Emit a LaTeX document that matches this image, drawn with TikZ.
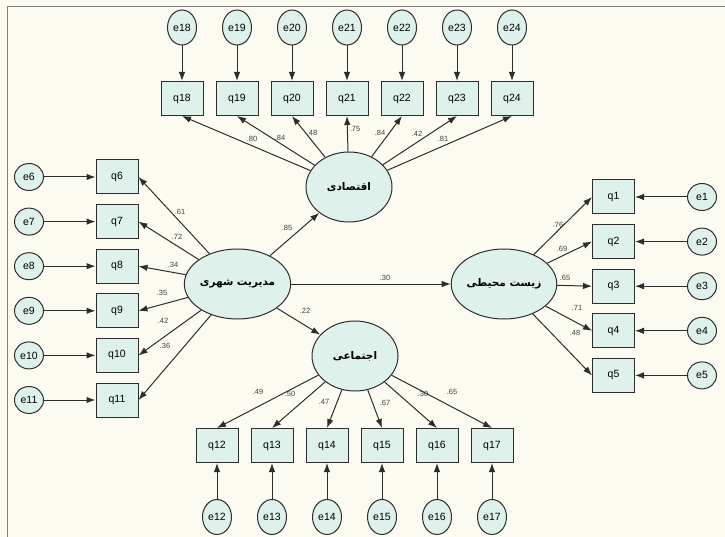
\documentclass[tikz,border=0pt]{standalone}
\usepackage{fontspec}
\setmainfont{Liberation Sans}
\newfontfamily\farsifont[Script=Arabic]{DejaVu Sans}
\TeXXeTstate=1
\usetikzlibrary{shapes.geometric,arrows.meta}
\definecolor{paper}{RGB}{252,251,241}
\definecolor{mint}{RGB}{222,242,235}
\definecolor{edge}{RGB}{45,45,45}
\tikzset{
  lat/.style={ellipse,draw=edge,fill=mint,line width=1pt,minimum width=86pt,
    minimum height=70pt,inner sep=0pt,font=\farsifont\bfseries\fontsize{10.5}{12}\selectfont},
  obs/.style={rectangle,draw=edge,fill=mint,line width=1pt,minimum width=42pt,
    minimum height=34pt,inner sep=0pt,font=\fontsize{10.5}{12}\selectfont},
  errs/.style={ellipse,draw=edge,fill=mint,line width=1pt,minimum width=29pt,
    minimum height=27pt,inner sep=0pt,font=\fontsize{10.5}{12}\selectfont},
  errt/.style={errs,minimum height=35pt},
  coef/.style={inner sep=0pt,font=\fontsize{7.5}{9}\selectfont,text=black!75},
  link/.style={-{Latex[length=9pt,width=6.5pt]},line width=1pt,draw=edge}
}

\begin{document}
\begin{tikzpicture}[x=1pt,y=-1pt]
    \useasboundingbox (0,0) rectangle (725,537);
    \fill[paper] (0,0) rectangle (725,537);
    \draw[gray,line width=1pt] (7,537) -- (7,7) -- (725,7);
    % latent variables
    \node[lat] (mod) at (237.5,284) {\beginR مدیریت شهری\endR};
    \node[lat] (eqt) at (349,187) {\beginR اقتصادی\endR};
    \node[lat] (env) at (504,284) {\beginR زیست محیطی\endR};
    \node[lat] (soc) at (355,356) {\beginR اجتماعی\endR};
    \draw[link] (mod) -- (eqt);
    \draw[link] (mod) -- (env);
    \draw[link] (mod) -- (soc);
    \node[coef] (c85) at (287,228) {.85};
    \node[coef] (c30) at (385,278) {.30};
    \node[coef] (c22) at (305,311) {.22};
    % left block
    \foreach \i/\c/\lx/\ly in {6/.61/180/212,7/.72/177/237,8/.34/173/265,
        9/.35/162/293,10/.42/163/321,11/.36/165/346}{
      \node[obs] (q\i) at (117,{177+(\i-6)*44.6}) {q\i};
      \node[errs] (e\i) at (29,{177+(\i-6)*44.6}) {e\i};
      \draw[link] (e\i) -- (q\i);
      \draw[link] (mod) -- (q\i.east);
      \node[coef] (c\i) at (\lx,\ly) {\c};
    }
    % top block
    \foreach \i/\c/\lx/\ly in {18/.80/252/139,19/.84/280/138,20/.48/312/133,
        21/.75/355/129,22/.84/380/133,23/.42/417/134,24/.81/443/139}{
      \node[obs] (q\i) at ({182+(\i-18)*55},98.5) {q\i};
      \node[errt] (e\i) at ({182+(\i-18)*55},27.5) {e\i};
      \draw[link] (e\i) -- (q\i);
      \draw[link] (eqt) -- (q\i.south);
      \node[coef] (c\i) at (\lx,\ly) {\c};
    }
    % right block
    \foreach \i/\c/\lx/\ly in {1/.76/558/225,2/.69/562/249,3/.65/565/278,
        4/.71/577/308,5/.48/575/333}{
      \node[obs] (q\i) at (613.5,{197+(\i-1)*44.6}) {q\i};
      \node[errs] (e\i) at (702,{197+(\i-1)*44.6}) {e\i};
      \draw[link] (e\i) -- (q\i);
      \draw[link] (env) -- (q\i.west);
      \node[coef] (c\i) at (\lx,\ly) {\c};
    }
    % bottom block
    \foreach \i/\c/\lx/\ly in {12/.49/258/392,13/.50/290/394,14/.47/324/402,
        15/.67/385/403,16/.30/423/394,17/.65/452/392}{
      \node[obs] (q\i) at ({217+(\i-12)*55},445.5) {q\i};
      \node[errt] (e\i) at ({217+(\i-12)*55},517) {e\i};
      \draw[link] (e\i) -- (q\i);
      \draw[link] (soc) -- (q\i.north);
      \node[coef] (c\i) at (\lx,\ly) {\c};
    }
\end{tikzpicture}
\end{document}
